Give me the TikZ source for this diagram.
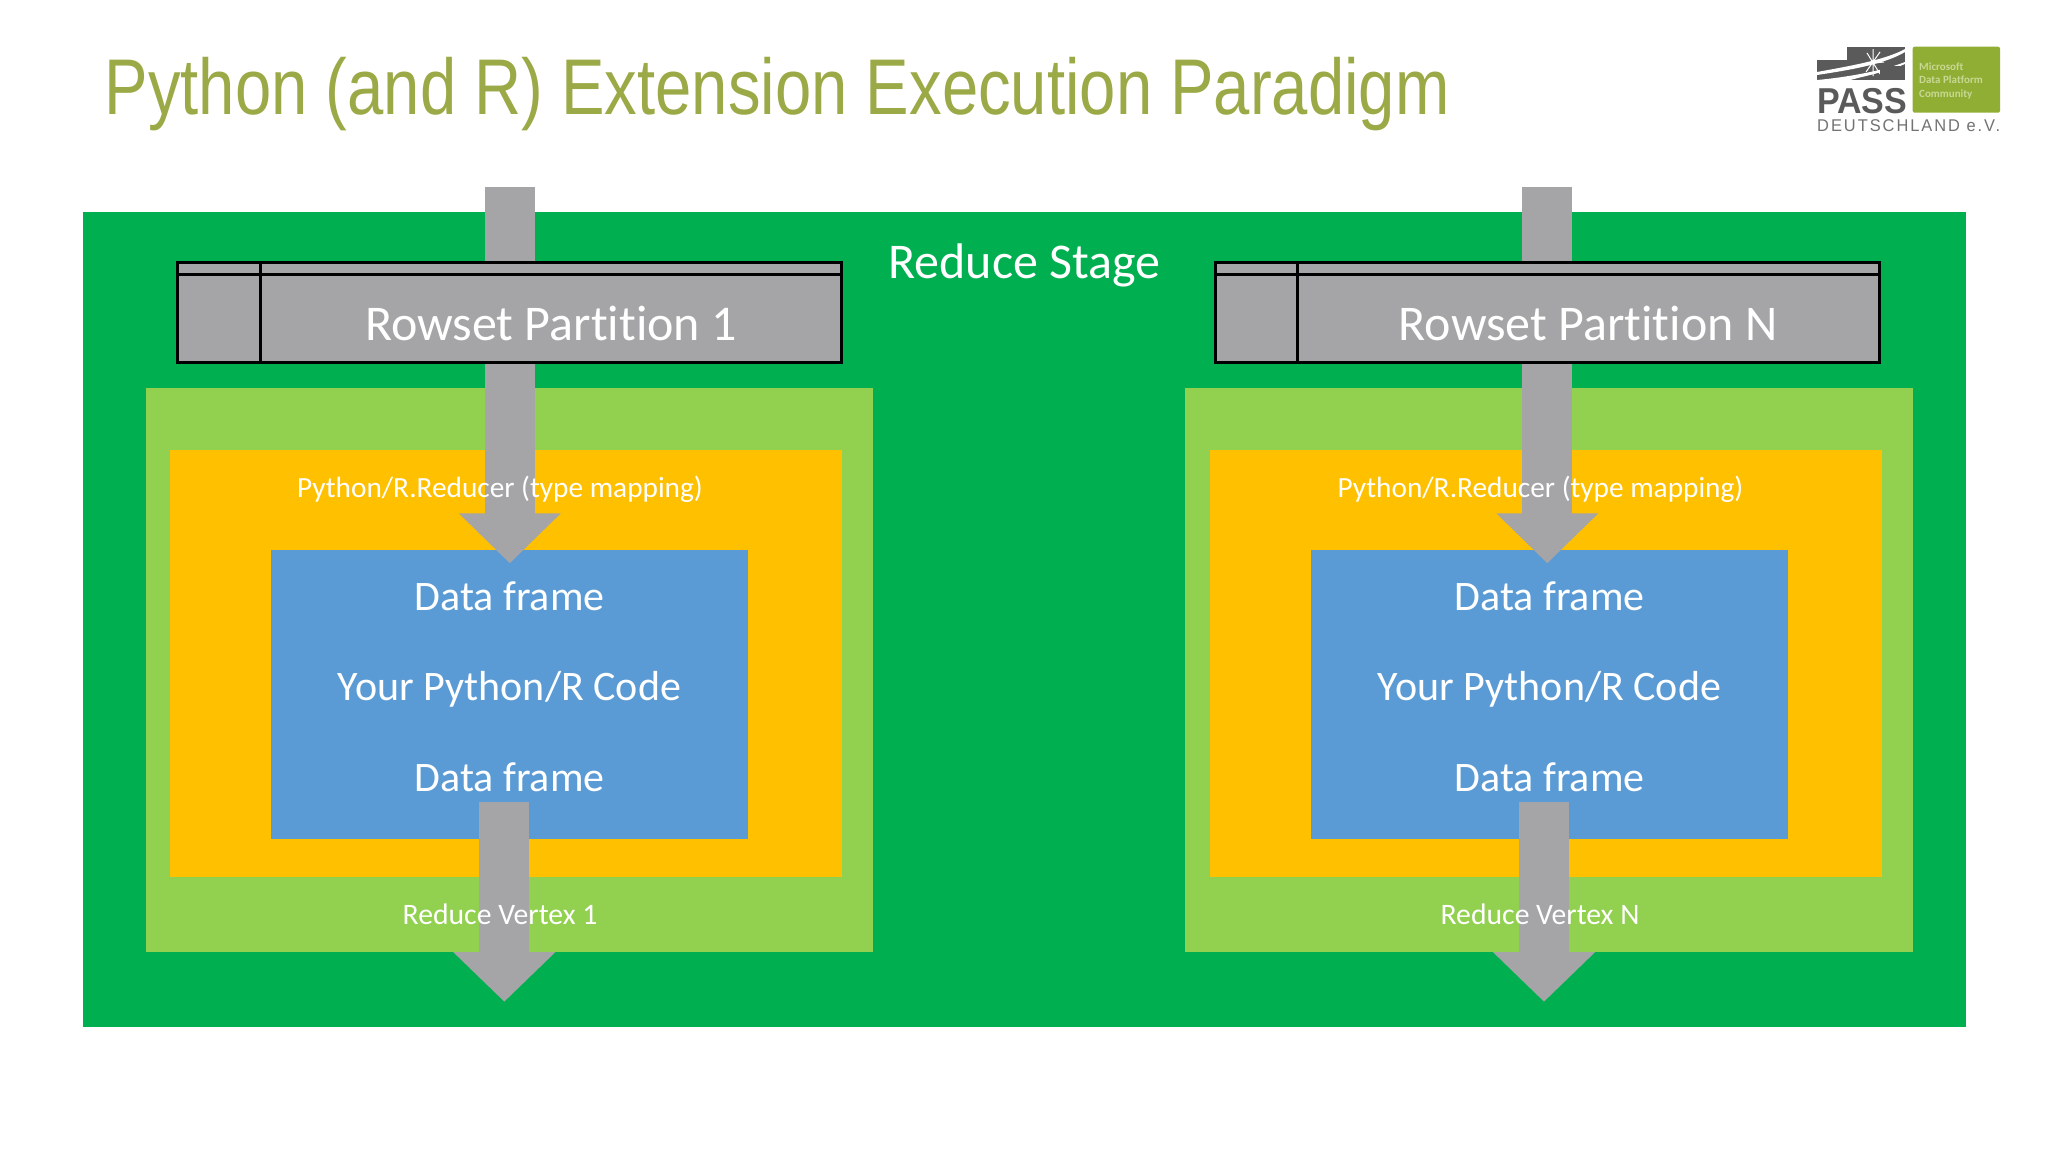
\documentclass[tikz,border=0pt]{standalone}
\usepackage{graphicx}
\usepackage{fontspec}
\setmainfont[Ligatures=NoCommon]{Carlito}
\newfontfamily\titlefont{Liberation Sans}
\usetikzlibrary{arrows.meta}
\definecolor{stagegreen}{HTML}{00B050}
\definecolor{vertexgreen}{HTML}{92D050}
\definecolor{reduceramber}{HTML}{FFC000}
\definecolor{codeblue}{HTML}{5B9BD5}
\definecolor{flowgrey}{HTML}{A5A4A6}
\definecolor{titleolive}{HTML}{9BAA47}
\definecolor{logogrey}{HTML}{5A5A5A}
\definecolor{logogreen}{HTML}{8FAE33}
\definecolor{logotext}{HTML}{C9D894}
\tikzset{
  panelbox/.style={anchor=north west,inner sep=0pt,outer sep=0pt},
  inflow/.style={draw=flowgrey,line width=50pt,-{Triangle[length=50pt,width=99pt]}},
  outflow/.style={draw=flowgrey,line width=50pt,-{Triangle[length=49.5pt,width=99pt]}},
  tablebox/.style={panelbox,fill=flowgrey,draw=black,line width=3pt},
  tableline/.style={draw=black,line width=3pt},
  lbl/.style={anchor=base,text=white,inner sep=0pt,font=\fontsize{#1}{#1}\selectfont},
}
\newcommand\panel[6]{%
  \pgfmathsetmacro\pw{#5-#3}\pgfmathsetmacro\ph{#6-#4}%
  \node[panelbox,fill=#2,minimum width=\pw pt,minimum height=\ph pt] (#1) at (#3,#4) {};}
\newcommand\tabbox[5]{%
  \pgfmathsetmacro\pw{#4-#2}\pgfmathsetmacro\ph{#5-#3}%
  \node[tablebox,minimum width=\pw pt,minimum height=\ph pt] (#1) at (#2,#3) {};}
\begin{document}
\begin{tikzpicture}[x=1pt,y=-1pt]
\useasboundingbox (0,0) rectangle (2048,1152);
\fill[white] (0,0) rectangle (2048,1152);

% title
\node[anchor=base west,inner sep=0pt,text=titleolive] (title) at (104.5,114)
  {\resizebox{1345pt}{\height}{\titlefont\fontsize{79}{79}\selectfont Python (and R) Extension Execution Paradigm}};

% logo
\fill[logogrey] (1846.7,47.3) rectangle (1905,80);
\fill[logogrey] (1817,59.5) rectangle (1880,83.5);
\fill[white] (1846.7,47.3) -- (1846.7,59.5) -- (1817,59.5) -- (1817,47.3) -- cycle;
\fill[white] (1817,72) .. controls (1850,66) and (1885,60) .. (1905,49) -- (1905,52) .. controls (1885,64) and (1850,70) .. (1817,75) -- cycle;
\fill[white] (1817,80) .. controls (1840,78) and (1880,72) .. (1905,62) -- (1905,64) .. controls (1880,75) and (1840,80) .. (1845,83.5) -- (1817,83.5) -- cycle;
\draw[white,line width=1pt] (1867,53)--(1880,74) (1873,49)--(1873,76) (1864,64)--(1884,62) (1880,52)--(1866,72);
\fill[logogrey] (1880,66) rectangle (1905,80);
\fill[white] (1817,80) rectangle (1906,84);
\node[anchor=base west,inner sep=0pt,text=logogrey] (logopass) at (1817,113.3)
  {\resizebox{90pt}{\height}{\titlefont\bfseries\fontsize{36}{36}\selectfont PASS}};
\node[anchor=base west,inner sep=0pt,text=logogrey!85] (logode) at (1817,131.5)
  {\resizebox{183pt}{\height}{\titlefont\fontsize{17}{17}\selectfont\addfontfeature{LetterSpace=12}DEUTSCHLAND e.V.}};
\fill[logogreen,rounded corners=2pt] (1912.7,46.7) rectangle (2000,112.7);
\node[anchor=base west,inner sep=0pt,text=logotext,font=\bfseries\fontsize{11}{11}\selectfont] (logoa) at (1919,70) {Microsoft};
\node[anchor=base west,inner sep=0pt,text=logotext,font=\bfseries\fontsize{11}{11}\selectfont] (logob) at (1919,83.5) {Data Platform};
\node[anchor=base west,inner sep=0pt,text=logotext,font=\bfseries\fontsize{11}{11}\selectfont] (logoc) at (1919,97) {Community};

% panels
\panel{stage}{stagegreen}{83}{211.7}{1965.5}{1027}
\panel{vertexA}{vertexgreen}{146}{387.7}{873.4}{952.3}
\panel{vertexB}{vertexgreen}{1185.4}{387.7}{1912.7}{952.3}
\panel{reducerA}{reduceramber}{170.3}{450}{842}{877}
\panel{reducerB}{reduceramber}{1210}{450}{1881.6}{877}
\panel{codeA}{codeblue}{271}{550}{747.5}{839.3}
\panel{codeB}{codeblue}{1311}{550}{1787.8}{839.3}

% flow arrows
\coordinate (inAs) at (509.8,187.3);
\coordinate (inAe) at (509.8,563.3);
\coordinate (inBs) at (1547.3,187.3);
\coordinate (inBe) at (1547.3,563.3);
\coordinate (outAs) at (504.3,802);
\coordinate (outAe) at (504.3,1001.7);
\coordinate (outBs) at (1544,802);
\coordinate (outBe) at (1544,1001.7);
\draw[inflow] (inAs) -- (inAe);
\draw[inflow] (inBs) -- (inBe);
\draw[outflow] (outAs) -- (outAe);
\draw[outflow] (outBs) -- (outBe);

% rowset tables
\tabbox{tabA}{177.8}{262.2}{841.8}{362.3}
\tabbox{tabB}{1215.5}{262.2}{1879.4}{362.3}
\draw[tableline] (260,0 |- tabA.north) -- (260,0 |- tabA.south);
\draw[tableline] (tabA.west |- 0,274.7) -- (tabA.east |- 0,274.7);
\draw[tableline] (1297.5,0 |- tabB.north) -- (1297.5,0 |- tabB.south);
\draw[tableline] (tabB.west |- 0,274.7) -- (tabB.east |- 0,274.7);

% labels
\node[lbl=50] (stageL) at (1024.5,278) {Reduce Stage};
\node[lbl=50] (rowA) at (551,340) {Rowset Partition 1};
\node[lbl=50] (rowB) at (1588,340) {Rowset Partition N};
\node[lbl=29.3] (mapA) at (500,497) {Python/R.Reducer (type mapping)};
\node[lbl=29.3] (mapB) at (1540.5,497) {Python/R.Reducer (type mapping)};
\node[lbl=42] (dfA) at (509.5,610) {Data frame};
\node[lbl=42] (dfB) at (1549.5,610) {Data frame};
\node[lbl=42] (codeTA) at (509.5,700.5) {Your Python/R Code};
\node[lbl=42] (codeTB) at (1549.5,700.5) {Your Python/R Code};
\node[lbl=42] (dfC) at (509.5,791) {Data frame};
\node[lbl=42] (dfD) at (1549.5,791) {Data frame};
\node[lbl=29.7] (vA) at (500,924.3) {Reduce Vertex 1};
\node[lbl=29.7] (vB) at (1540,924.3) {Reduce Vertex N};
\end{tikzpicture}
\end{document}
